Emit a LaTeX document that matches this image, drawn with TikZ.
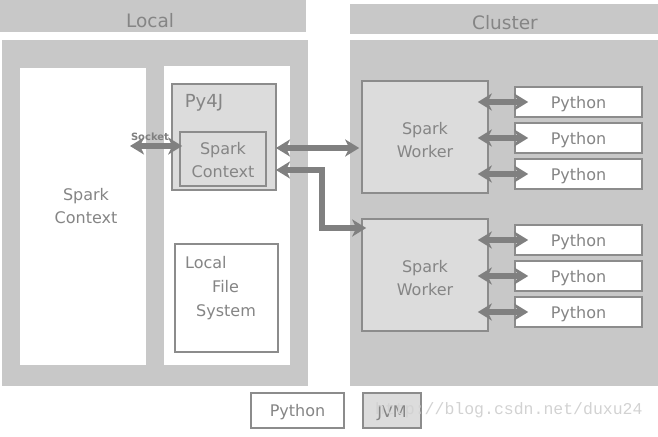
\documentclass[tikz,border=0pt]{standalone}
\usepackage{fontspec}
\setmainfont{DejaVu Sans}
\newfontfamily\wmfont{Liberation Mono}
\usetikzlibrary{arrows.meta}
\definecolor{bggray}{HTML}{C8C8C8}
\definecolor{jvmgray}{HTML}{DCDCDC}
\definecolor{bordgray}{HTML}{8C8C8C}
\definecolor{arrgray}{HTML}{808080}
\definecolor{txtgray}{HTML}{858585}
\definecolor{wmgray}{HTML}{D2D2D2}
\begin{document}
\begin{tikzpicture}[x=1pt,y=-1pt,
  jvmbox/.style={fill=jvmgray,draw=bordgray,line width=1.6pt},
  pybox/.style={fill=white,draw=bordgray,line width=1.6pt},
  lbl/.style={text=txtgray,font=\fontsize{16}{23}\selectfont,align=center,inner sep=0pt},
  hdr/.style={text=txtgray,font=\fontsize{18.5}{22}\selectfont,inner sep=0pt},
  arr/.style={draw=arrgray,line width=5.5pt,{Stealth[width=17pt,length=14pt,inset=4pt]}-{Stealth[width=17pt,length=14pt,inset=4pt]}},
  pynode/.style={pybox,minimum width=127pt,minimum height=30pt,inner sep=0pt,text=txtgray,font=\fontsize{16}{19}\selectfont,text height=16pt,text depth=3.8pt}
]
\useasboundingbox (0,0) rectangle (658,436);
% headers
\fill[bggray] (0,0) rectangle (306,32);
\fill[bggray] (350,4) rectangle (658,34);
\node[hdr] (localhdr) at (150,21) {Local};
\node[hdr] (clusterhdr) at (505,23) {Cluster};
% big regions
\fill[bggray] (2,40) rectangle (308,386);
\fill[bggray] (350,40) rectangle (658,386);
\fill[white] (20,68) rectangle (146,365);
\fill[white] (164,66) rectangle (290,365);
\node[lbl] (sparkctx) at (86,206) {Spark\\Context};
% Py4J
\draw[jvmbox] (172,84) rectangle (276,190);
\node[hdr,font=\fontsize{18}{22}\selectfont] (py4jlbl) at (204,103) {Py4J};
\node[jvmbox,minimum width=86pt,minimum height=54pt,inner sep=0pt] (sc) at (223,159) {};
\node[lbl] (sclbl) at (223,160) {Spark\\Context};
\coordinate (py4jE1) at (276,148);
\coordinate (py4jE2) at (276,170);
% Local File System
\draw[pybox] (175,244) rectangle (278,352);
\node[lbl,align=left,anchor=north west,font=\fontsize{16}{24}\selectfont] (lfs) at (185,256) {Local\\\hspace*{27pt}File\\\hspace*{11pt}System};
% workers
\node[jvmbox,minimum width=126pt,minimum height=112pt,inner sep=0pt] (w1) at (425,137) {};
\node[lbl] (w1lbl) at (425,140) {Spark\\Worker};
\node[jvmbox,minimum width=126pt,minimum height=112pt,inner sep=0pt] (w2) at (425,275) {};
\node[lbl] (w2lbl) at (425,278) {Spark\\Worker};
% python nodes
\foreach \i/\yy in {1/102,2/138,3/174,4/240,5/276,6/312}{
  \node[pynode] (py\i) at (578.5,\yy) {Python};
}
% arrows worker-python
\foreach \i/\w in {1/w1,2/w1,3/w1,4/w2,5/w2,6/w2}{
  \draw[arr] ([xshift=-11pt]\w.east |- py\i.west) -- ([xshift=14pt]py\i.west);
}
% socket
\coordinate (sockL) at (130,146);
\draw[arr] (sockL) -- ([xshift=3pt]sc.west |- sockL);
\node[text=arrgray,font=\bfseries\fontsize{10}{12}\selectfont,inner sep=0pt] (socket) at (150,137) {Socket};
% py4j to workers
\draw[arr] (py4jE1) -- ([xshift=-2pt]w1.west |- py4jE1);
\draw[arr] (py4jE2) -- ++(46,0) |- ([xshift=5pt]w2.west |- {(0,228)});
% legend
\node[pybox,minimum width=93pt,minimum height=35pt,inner sep=0pt,text=txtgray,font=\fontsize{16}{19}\selectfont,text height=16pt,text depth=3.8pt] (legpy) at (297.5,410.5) {Python};
\node[jvmbox,minimum width=58pt,minimum height=35pt,inner sep=0pt,text=txtgray,font=\fontsize{16}{19}\selectfont,text height=14pt,text depth=0pt] (legjvm) at (392,410.5) {JVM};
\node[text=wmgray,font=\wmfont\fontsize{16.5}{19}\selectfont,inner sep=0pt,anchor=west] (wm) at (375,410) {http://blog.csdn.net/duxu24};
\end{tikzpicture}
\end{document}
